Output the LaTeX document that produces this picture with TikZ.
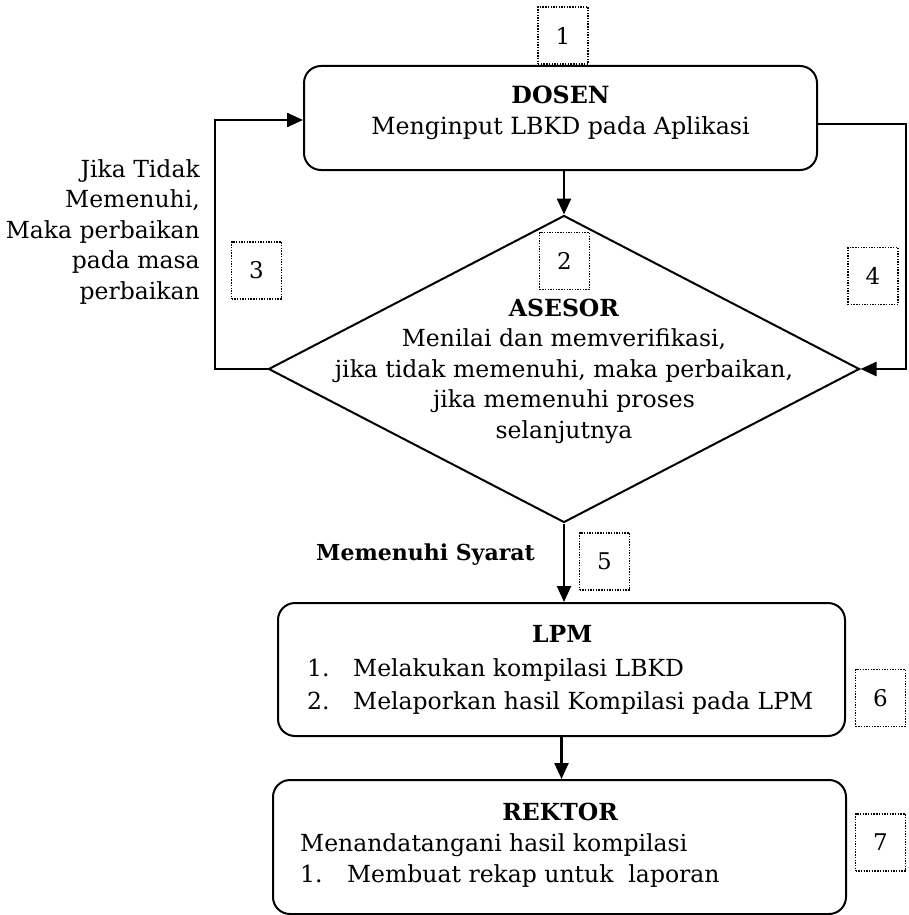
\documentclass[tikz,border=0pt]{standalone}
\usepackage{fontspec}
\setmainfont{DejaVu Serif}
\usetikzlibrary{shapes.geometric,arrows.meta,calc}
\begin{document}
\begin{tikzpicture}[x=1pt,y=-1pt,
  box/.style={draw,line width=2pt,rounded corners=17pt,inner sep=0pt},
  numbox/.style={draw,line width=1.6pt,dash pattern=on 1.4pt off 1.3pt,minimum width=50pt,minimum height=57pt,inner sep=0pt,font=\fontsize{23}{26}\selectfont},
  conn/.style={line width=2.4pt},
  arr/.style={conn,-{Triangle[length=16pt,width=14pt]}},
  txt/.style={font=\fontsize{23.7}{31}\selectfont,inner sep=0pt}]
\useasboundingbox (0,0) rectangle (908,915);

% main shapes
\node[box,minimum width=513pt,minimum height=104pt] (dosen) at (560.5,118) {};
\node[diamond,draw,line width=2pt,minimum width=591pt,minimum height=307pt,inner sep=0pt] (dia) at (564,369) {};
\node[box,minimum width=567pt,minimum height=133pt] (lpm) at (561.5,669.5) {};
\node[box,minimum width=573pt,minimum height=134pt] (rektor) at (559.5,847) {};

% texts in shapes
\node[txt,align=center] (dosentxt) at (560.5,112.5)
  {\textbf{DOSEN}\\Menginput LBKD pada Aplikasi};
\node[txt,align=center,font=\fontsize{23.5}{30.5}\selectfont] (diatxt) at (564,371)
  {\textbf{ASESOR}\\Menilai dan memverifikasi,\\jika tidak memenuhi, maka perbaikan,\\jika memenuhi proses\\selanjutnya};
\node[txt,align=left,anchor=west,font=\fontsize{23.5}{33.5}\selectfont] (lpmtxt) at (307,670)
  {\makebox[510pt]{\textbf{LPM}}\\
   \makebox[46pt][l]{1.}Melakukan kompilasi LBKD\\
   \makebox[46pt][l]{2.}Melaporkan hasil Kompilasi pada LPM};
\node[txt,align=left,anchor=west,font=\fontsize{23.5}{31}\selectfont] (rektortxt) at (300,845)
  {\makebox[520pt]{\textbf{REKTOR}}\\
   Menandatangani hasil kompilasi\\
   \makebox[47pt][l]{1.}Membuat rekap untuk\ \ laporan};

% side labels
\node[txt,align=right,anchor=east,font=\fontsize{23.5}{30.5}\selectfont] (lbl3) at (200,232)
  {Jika Tidak\\Memenuhi,\\Maka perbaikan\\pada masa\\perbaikan};
\node[txt,anchor=east,font=\bfseries\fontsize{22}{26}\selectfont] (lbl5) at (535,555) {Memenuhi Syarat};

% numbered dotted boxes
\node[numbox] (n1) at (563,35.5) {1};
\node[numbox] (n2) at (564.5,261) {2};
\node[numbox] (n3) at (256.5,270.5) {3};
\node[numbox] (n4) at (873,276) {4};
\node[numbox] (n5) at (604.5,561.5) {5};
\node[numbox] (n6) at (880.5,698) {6};
\node[numbox] (n7) at (880.5,842.5) {7};

% connectors
\coordinate (lc) at (215,369);
\coordinate (rc) at (906,124);
\draw[arr] (dosen.south -| dia.north) -- (dia.north);
\draw[arr] (dia.west) -- (lc) |- ([yshift=-2pt]dosen.west);
\draw[arr] ([yshift=-6pt]dosen.east) -- (rc) |- (dia.east);
\draw[arr] (dia.south) -- (dia.south |- lpm.north);
\draw[arr] (lpm.south) -- (lpm.south |- rektor.north);
\end{tikzpicture}
\end{document}
